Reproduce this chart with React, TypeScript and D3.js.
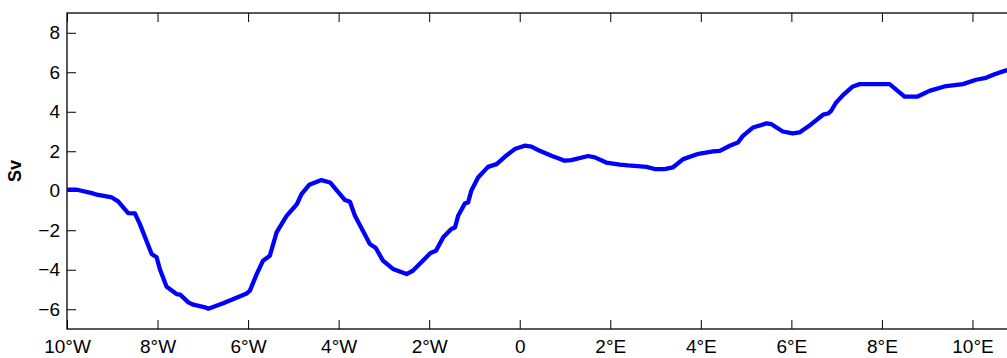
import React, { useEffect, useRef } from "react";
import * as d3 from "d3";

// longitude (deg, negative = west) and transport (Sv)
const lon = [
  -10, -9.78, -9.45, -9.34, -9.01, -8.87, -8.65, -8.5, -8.39, -8.13, -8.02, -7.95, -7.8, -7.58, -7.5,
  -7.32, -7.21, -6.95, -6.88, -6.55, -6.03, -5.96, -5.81, -5.67, -5.52, -5.37, -5.15, -4.97, -4.92,
  -4.82, -4.65, -4.38, -4.19, -3.86, -3.75, -3.64, -3.31, -3.18, -3.02, -2.8, -2.5, -2.36, -1.97,
  -1.85, -1.69, -1.51, -1.43, -1.36, -1.21, -1.14, -1.07, -0.92, -0.7, -0.51, -0.33, -0.11, 0.11,
  0.26, 0.44, 0.7, 0.85, 0.99, 1.14, 1.51, 1.66, 1.91, 2.21, 2.39, 2.8, 2.98, 3.2, 3.38, 3.61, 3.95,
  4.27, 4.42, 4.64, 4.82, 4.93, 5.15, 5.45, 5.56, 5.81, 6.03, 6.18, 6.44, 6.7, 6.81, 6.88, 6.99, 7.14,
  7.36, 7.51, 8.17, 8.5, 8.79, 9.05, 9.38, 9.79, 10.08, 10.3, 10.49, 10.71, 10.85,
];
const sv = [
  0.05, 0.05, -0.12, -0.2, -0.34, -0.54, -1.13, -1.15, -1.69, -3.2, -3.37, -3.96, -4.86, -5.23, -5.26,
  -5.65, -5.77, -5.9, -5.97, -5.7, -5.2, -5.06, -4.22, -3.54, -3.29, -2.11, -1.27, -0.81, -0.67,
  -0.17, 0.3, 0.54, 0.42, -0.47, -0.56, -1.27, -2.7, -2.9, -3.54, -3.96, -4.22, -4.05, -3.15,
  -3.04, -2.36, -1.94, -1.86, -1.27, -0.64, -0.59, 0.0, 0.67, 1.21, 1.35, 1.72, 2.11, 2.28,
  2.23, 2.02, 1.77, 1.65, 1.52, 1.55, 1.76, 1.69, 1.43, 1.32, 1.28, 1.21, 1.1, 1.1, 1.18, 1.6, 1.87,
  1.99, 2.02, 2.28, 2.44, 2.78, 3.2, 3.41, 3.37, 3.0, 2.9, 2.95, 3.37, 3.85, 3.91, 4.05, 4.47, 4.84,
  5.28, 5.4, 5.4, 4.77, 4.77, 5.06, 5.28, 5.4, 5.62, 5.72, 5.9, 6.07, 6.15,
];
const xTicks = [-10, -8, -6, -4, -2, 0, 2, 4, 6, 8, 10];
const yTicks = [-6, -4, -2, 0, 2, 4, 6, 8];

const lonLabel = (d: number) => (d === 0 ? "0" : Math.abs(d) + "\u00b0" + (d < 0 ? "W" : "E"));

export default function App() {
  const ref = useRef<SVGSVGElement>(null);

  useEffect(() => {
    const W = 1007, H = 358;
    const left = 67, top = 13, bottom = 329, right = 1063;
    const svg = d3.select(ref.current);
    svg.selectAll("*").remove();

    const x = d3.scaleLinear().domain([-10, 12]).range([left, right]);
    const y = d3.scaleLinear().domain([-7, 9]).range([bottom, top]);
    const font = "'Liberation Sans', Arial, sans-serif";
    const tick = 9;

    const data = lon.map((d, i) => [d, sv[i]] as [number, number]);

    svg.append("rect").attr("width", W).attr("height", H).attr("fill", "#fff");

    // axes box
    svg.append("rect")
      .attr("x", left).attr("y", top)
      .attr("width", right - left).attr("height", bottom - top)
      .attr("fill", "none").attr("stroke", "#000").attr("stroke-width", 1.3);

    const xb = d3.axisBottom(x).tickValues(xTicks).tickSize(-tick).tickPadding(11).tickFormat(d => lonLabel(+d));
    const gx = svg.append("g").attr("transform", `translate(0,${bottom})`).call(xb);
    const gxt = svg.append("g").attr("transform", `translate(0,${top})`)
      .call(d3.axisTop(x).tickValues(xTicks).tickSize(-tick).tickFormat(() => ""));
    const gy = svg.append("g").attr("transform", `translate(${left},0)`)
      .call(d3.axisLeft(y).tickValues(yTicks).tickSize(-tick).tickPadding(7)
        .tickFormat(d => (+d < 0 ? "\u2212" + Math.abs(+d) : String(d))));

    [gx, gxt, gy].forEach(g => {
      g.select(".domain").remove();
      g.selectAll("line").attr("stroke", "#000").attr("stroke-width", 1);
      g.selectAll("text").attr("fill", "#000").style("font-family", font).style("font-size", "19px");
    });

    svg.append("text")
      .attr("transform", `translate(21,${(top + bottom) / 2}) rotate(-90)`)
      .attr("text-anchor", "middle")
      .style("font-family", font).style("font-size", "18px").style("font-weight", "bold")
      .text("Sv");

    svg.append("path")
      .datum(data)
      .attr("fill", "none")
      .attr("stroke", "#0000ff")
      .attr("stroke-width", 4.3)
      .attr("stroke-linejoin", "round")
      .attr("d", d3.line().x(d => x(d[0])).y(d => y(d[1])));
  }, []);

  return (
    <svg ref={ref} width={1007} height={358}
      style={{ position: "absolute", left: 0, top: 0, display: "block" }} />
  );
}
